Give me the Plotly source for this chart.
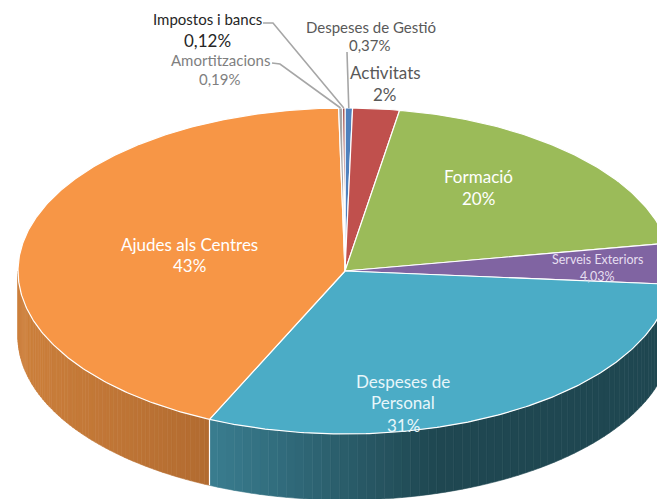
import math
import plotly.graph_objects as go

# ---- data (clockwise from 12 o'clock) ----
categories = ["Despeses de Gestió", "Activitats", "Formació", "Serveis Exteriors",
              "Despeses de Personal", "Ajudes als Centres", "Amortitzacions", "Impostos i bancs"]
values = [0.37, 2.3, 19.6, 4.03, 30.5, 42.89, 0.19, 0.12]
percent_labels = ["0,37%", "2%", "20%", "4,03%", "31%", "43%", "0,19%", "0,12%"]
top_colors = ["#4F81BD", "#C0504D", "#9BBB59", "#8064A2", "#4BACC6", "#F79646", "#A6A6A6", "#943634"]
# wall colours at left and right of each visible wall
wall_left = {4: (58, 125, 144), 5: (205, 128, 60)}
wall_right = {4: (31, 71, 81), 5: (178, 107, 48)}

# ---- projection of the tilted pie ----
W, H = 657, 499
CX, CY, RX, RY, DEPTH = 345, 271, 327, 163, 66
EDGE = "#FFFFFF"
TOTAL = sum(values)


def pt(theta, dy=0.0):
    return CX + RX * math.sin(theta), CY - RY * math.cos(theta) + dy


def lerp(a, b, t):
    t = max(0.0, min(1.0, t))
    return tuple(int(round(a[i] + (b[i] - a[i]) * t)) for i in range(3))


fig = go.Figure()


def poly(points, fill, line_color=None, line_width=0.0):
    xs = [p[0] for p in points] + [points[0][0]]
    ys = [p[1] for p in points] + [points[0][1]]
    fig.add_trace(go.Scatter(
        x=xs, y=ys, mode="lines", fill="toself", fillcolor=fill,
        line=dict(color=line_color or fill, width=line_width),
        hoverinfo="skip", showlegend=False))


# slice boundaries
bounds = [0.0]
for v in values:
    bounds.append(bounds[-1] + v / TOTAL * 2 * math.pi)

# walls: front half only
for idx in (4, 5):
    a0, a1 = max(bounds[idx], math.pi / 2), min(bounds[idx + 1], 3 * math.pi / 2)
    n = 70
    x_a, x_b = pt(a0)[0], pt(a1)[0]
    for k in range(n):
        t0 = a0 + (a1 - a0) * k / n
        t1 = a0 + (a1 - a0) * (k + 1) / n
        xm = (pt(t0)[0] + pt(t1)[0]) / 2
        if idx == 4:
            # dark to the right of x≈435, lightening towards the seam
            f = (xm - 208) / (435 - 208)
            c = lerp(wall_left[4], wall_right[4], f)
        else:
            c = lerp(wall_left[5], wall_right[5], (xm - 18) / (208 - 18))
        sub = [t0 + (t1 - t0) * j / 3 for j in range(4)]
        pts = [pt(s) for s in sub] + [pt(s, DEPTH) for s in reversed(sub)]
        poly(pts, "rgb(%d,%d,%d)" % c, "rgb(%d,%d,%d)" % c, 0.6)

# seam between the two visible walls
seam = bounds[5]
fig.add_trace(go.Scatter(x=[pt(seam)[0], pt(seam, DEPTH)[0]], y=[pt(seam)[1], pt(seam, DEPTH)[1]],
                         mode="lines", line=dict(color=EDGE, width=1.2),
                         hoverinfo="skip", showlegend=False))

# top face
for i, col in enumerate(top_colors):
    a0, a1 = bounds[i], bounds[i + 1]
    n = max(2, int((a1 - a0) / 0.01))
    pts = [(CX, CY)] + [pt(a0 + (a1 - a0) * k / n) for k in range(n + 1)]
    poly(pts, col, EDGE, 1.2)

# leader lines: label elbow, then the rim at the slice's mid angle
leaders = {
    7: [(263, 23), (273, 23)],
    6: [(272, 63), (280, 64)],
    0: [(347, 52)],
}
for i, elbow in leaders.items():
    ex, ey = pt((bounds[i] + bounds[i + 1]) / 2)
    xs = [p[0] for p in elbow] + [ex]
    ys = [p[1] for p in elbow] + [ey]
    fig.add_trace(go.Scatter(x=xs, y=ys, mode="lines", line=dict(color="#A6A6A6", width=1.6),
                             hoverinfo="skip", showlegend=False))

FONT = "Lato"
labels = [
    (371, 27, categories[0], 15, "#595959"), (370, 45, percent_labels[0], 15, "#595959"),
    (385, 72, categories[1], 17, "#595959"), (385, 94, percent_labels[1], 17, "#595959"),
    (478, 176, categories[2], 17, "#FFFFFF"), (478, 198, percent_labels[2], 17, "#FFFFFF"),
    (597, 259, categories[3], 12.5, "#E6DFF0"), (597, 276, percent_labels[3], 12.5, "#E6DFF0"),
    (403, 381, "Despeses de", 17, "#E8F6FA"), (403, 402, "Personal", 17, "#E8F6FA"),
    (403, 425, percent_labels[4], 17, "#E8F6FA"),
    (189, 244, categories[5], 17, "#FFFFFF"), (189, 265, percent_labels[5], 17, "#FFFFFF"),
    (220, 60, categories[6], 15, "#7F7F7F"), (220, 79, percent_labels[6], 15, "#7F7F7F"),
    (207, 19, categories[7], 15, "#262626"), (207, 40, percent_labels[7], 17, "#262626"),
]
for x, y, text, size, color in labels:
    fig.add_annotation(x=x, y=y, text=text, showarrow=False, xanchor="center", yanchor="middle",
                       font=dict(family=FONT, size=size, color=color))

fig.update_layout(
    width=W, height=H, margin=dict(l=0, r=0, t=0, b=0),
    paper_bgcolor="white", plot_bgcolor="white", showlegend=False,
    xaxis=dict(range=[0, W], visible=False, fixedrange=True),
    yaxis=dict(range=[H, 0], visible=False, fixedrange=True),
)
fig.write_html("out.html", config={"displayModeBar": False},
               post_script="document.body.style.margin='0';")
